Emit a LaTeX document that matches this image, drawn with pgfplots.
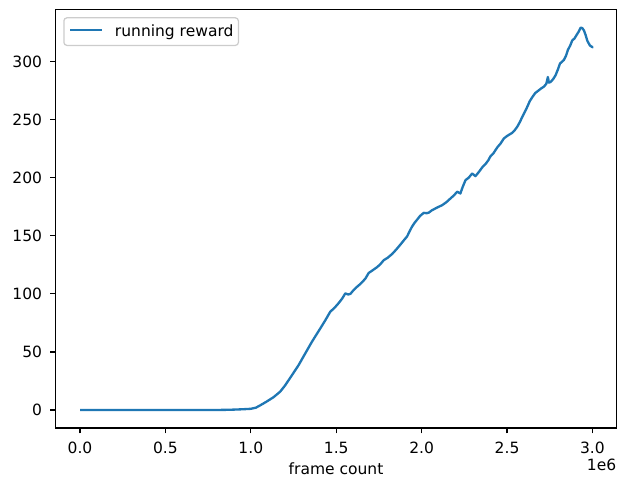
\documentclass[border=0pt]{standalone}
\usepackage{fontspec}
\setmainfont{DejaVu Sans}
\usepackage{pgfplots}
\pgfplotsset{compat=1.18}
\usetikzlibrary{calc}
\definecolor{c0}{HTML}{1F77B4}
\begin{document}
\begin{tikzpicture}
\begin{axis}[
  scale only axis,
  width=361.8pt, height=269.9pt,
  xmin=-0.1434, xmax=3.141,
  ymin=-15.5, ymax=345.0,
  axis line style={line width=0.8pt},
  tick style={line width=0.8pt, black},
  tick align=outside,
  major tick length=3.5pt,
  xtick pos=bottom, ytick pos=left,
  xtick={0,0.5,1,1.5,2,2.5,3},
  ytick={0,50,100,150,200,250,300},
  xticklabel style={/pgf/number format/fixed, /pgf/number format/fixed zerofill, /pgf/number format/precision=1, /pgf/number format/assume math mode=true,
    anchor=base, inner sep=0pt, yshift=-12.8pt},
  yticklabel style={/pgf/number format/assume math mode=true,
    anchor=east, inner sep=0pt, xshift=-5pt},
  ticklabel style={font=\fontsize{10}{12}\selectfont},
  xlabel={frame count},
  xlabel style={at={(axis description cs:0.5,0)}, anchor=base, inner sep=0pt, yshift=-30pt, font=\fontsize{10}{12}\selectfont},
  legend style={at={(0,1)}, anchor=north west, xshift=5pt, yshift=-5pt,
    draw=black!20, line width=0.8pt, rounded corners=2pt, fill=white, fill opacity=0.8, text opacity=1,
    font=\fontsize{10}{12}\selectfont, inner xsep=3.2pt, inner ysep=4pt, column sep=0pt,
    nodes={inner sep=0pt, text height=8pt, text depth=1.8pt, anchor=base}},
  legend cell align=left,
  legend image code/.code={\path[draw=none] (0pt,0pt) -- (29pt,0pt); \draw[#1] (0pt,4.3pt) -- (20.9pt,4.3pt);},
]
\addplot[color=c0, line width=1.5pt, line join=round] coordinates {
(0,0) (0.1,0) (0.2,0) (0.3,0) (0.4,0) (0.5,0) (0.6,0) (0.7,0) (0.8,0) (0.85,0.1) (0.9,0.3) (0.95,0.6) (1.0,1.0) (1.03,2.0) (1.055,4.0) (1.09,7) (1.133,11) (1.172,15.8) (1.20,21) (1.241,30) (1.28,38.7) (1.319,48.8) (1.358,58.8) (1.38,64) (1.407,70.3) (1.435,77) (1.465,84.6) (1.49,88) (1.514,92) (1.535,96) (1.553,100.4) (1.57,99.5) (1.583,100) (1.60,103) (1.618,105.6) (1.641,108.5) (1.67,113) (1.69,118) (1.71,120) (1.739,123) (1.758,125.5) (1.778,129) (1.80,131) (1.827,134.3) (1.85,138) (1.876,142.5) (1.895,146) (1.915,149.5) (1.93,154) (1.944,158) (1.96,161.5) (1.974,164) (1.99,167) (2.012,169.8) (2.03,169.5) (2.042,170) (2.06,172) (2.081,173.6) (2.10,175) (2.12,176.4) (2.145,179) (2.169,182.2) (2.19,185) (2.208,188) (2.227,186.5) (2.24,192) (2.257,198) (2.275,200) (2.296,203.7) (2.315,201.4) (2.335,205) (2.355,209) (2.375,212) (2.39,215) (2.403,218.5) (2.42,221) (2.433,224) (2.445,226.6) (2.462,229.5) (2.481,233.8) (2.50,236) (2.53,238.7) (2.545,241) (2.56,244) (2.575,248) (2.589,252.4) (2.605,257) (2.618,261) (2.633,266) (2.648,269.5) (2.665,273) (2.687,275.5) (2.70,277) (2.716,278.5) (2.73,281) (2.739,286.8) (2.745,282) (2.755,282.5) (2.77,285) (2.784,288.3) (2.797,293) (2.81,298.4) (2.822,300) (2.833,301.5) (2.845,305) (2.856,310) (2.87,314) (2.882,318.4) (2.895,320) (2.907,323) (2.92,326) (2.931,329.3) (2.94,329) (2.95,327) (2.96,323) (2.97,318) (2.985,314) (3.0,312.5) (3.005,312.6)
};
\addlegendentry{running reward\hspace{2.2pt}}
\end{axis}
\node[anchor=base east, font=\fontsize{10}{12}\selectfont, inner sep=0pt] at ($(current axis.south east)+(0pt,-27.7pt)$) {1e6};
\pgfresetboundingbox
\path ($(current axis.south west)+(-35.8pt,-31.6pt)$) rectangle ($(current axis.north east)+(0.3pt,6.1pt)$);
\end{tikzpicture}
\end{document}
